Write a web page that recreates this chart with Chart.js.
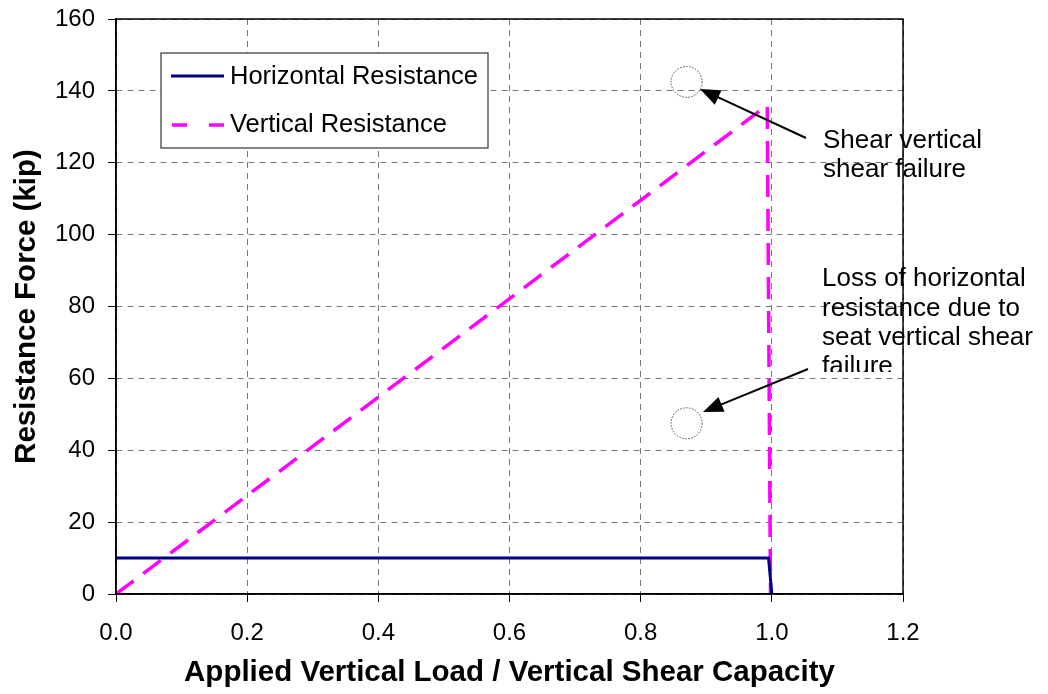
<!DOCTYPE html>
<html>
<head>
<meta charset="utf-8">
<script src="https://cdn.jsdelivr.net/npm/chart.js@4/dist/chart.umd.min.js"></script>
<style>
    html, body { margin: 0; padding: 0; background: #fff; }
    #wrap { width: 1048px; height: 694px; }
</style>
</head>
<body>
<div id="wrap"><canvas id="resChart" width="1048" height="694"></canvas></div>
<script>
// data
const horizX = [0, 0.995, 1.0];
const horizY = [10, 10, 0];
const vertX = [0, 0.993, 0.998];
const vertY = [0, 136, 0];
const xTicks = [0, 0.2, 0.4, 0.6, 0.8, 1.0, 1.2];
const yTicks = [0, 20, 40, 60, 80, 100, 120, 140, 160];

// circled points in the notes (data units)
const circles = [
    { x: 0.87, y: 142.5 },
    { x: 0.87, y: 47.5 }
];

const FONT = '"Liberation Sans", Arial, sans-serif';

const toPoints = (xs, ys) => xs.map((x, i) => ({ x: x, y: ys[i] }));

const drawArrow = (ctx, x1, y1, x2, y2) => {
    const a = Math.atan2(y2 - y1, x2 - x1);
    const len = 20, wid = 8;
    ctx.beginPath();
    ctx.moveTo(x1, y1);
    ctx.lineTo(x2 - len * 0.8 * Math.cos(a), y2 - len * 0.8 * Math.sin(a));
    ctx.stroke();
    ctx.beginPath();
    ctx.moveTo(x2, y2);
    ctx.lineTo(x2 - len * Math.cos(a) + wid * Math.sin(a), y2 - len * Math.sin(a) - wid * Math.cos(a));
    ctx.lineTo(x2 - len * Math.cos(a) - wid * Math.sin(a), y2 - len * Math.sin(a) + wid * Math.cos(a));
    ctx.closePath();
    ctx.fill();
};

const extras = {
    id: 'extras',
    afterDatasetsDraw(chart) {
        const { ctx, chartArea: ca, scales } = chart;
        ctx.save();

        // plot frame
        ctx.strokeStyle = '#000';
        ctx.lineWidth = 1.5;
        ctx.setLineDash([]);
        ctx.strokeRect(ca.left, ca.top, ca.right - ca.left, ca.bottom - ca.top);

        // legend box
        ctx.fillStyle = '#fff';
        ctx.fillRect(161, 53, 327, 95);
        ctx.strokeStyle = '#333';
        ctx.lineWidth = 1.2;
        ctx.strokeRect(161, 53, 327, 95);
        ctx.lineWidth = 3;
        ctx.strokeStyle = '#000080';
        ctx.beginPath(); ctx.moveTo(171, 76); ctx.lineTo(224, 76); ctx.stroke();
        ctx.strokeStyle = '#FF00FF';
        ctx.lineWidth = 3.5;
        ctx.setLineDash([15, 22]);
        ctx.beginPath(); ctx.moveTo(172, 125); ctx.lineTo(224, 125); ctx.stroke();
        ctx.setLineDash([]);
        ctx.fillStyle = '#000';
        ctx.font = '25.5px ' + FONT;
        ctx.textBaseline = 'middle';
        ctx.fillText('Horizontal Resistance', 230, 77);
        ctx.fillText('Vertical Resistance', 230, 125);

        // circles
        ctx.strokeStyle = '#444';
        ctx.lineWidth = 1;
        ctx.setLineDash([1.5, 1.5]);
        circles.forEach(c => {
            ctx.beginPath();
            ctx.arc(scales.x.getPixelForValue(c.x), scales.y.getPixelForValue(c.y), 15.5, 0, Math.PI * 2);
            ctx.stroke();
        });
        ctx.setLineDash([]);

        // arrows
        ctx.strokeStyle = '#000';
        ctx.fillStyle = '#000';
        ctx.lineWidth = 2;
        drawArrow(ctx, 806, 138, 700, 89);
        drawArrow(ctx, 808, 369, 703, 412);

        // notes
        ctx.font = '26px ' + FONT;
        ctx.textBaseline = 'middle';
        ctx.fillText('Shear vertical', 823, 141);
        ctx.fillText('shear failure', 823, 170);
        ctx.fillText('Loss of horizontal', 822, 279);
        ctx.fillText('resistance due to', 822, 309);
        ctx.fillText('seat vertical shear', 822, 338);
        // last line is cut off by its box in the original
        ctx.save();
        ctx.beginPath();
        ctx.rect(815, 350, 220, 22);
        ctx.clip();
        ctx.fillText('failure', 822, 367);
        ctx.restore();

        ctx.restore();
    }
};

const ctx = document.getElementById('resChart').getContext('2d');

new Chart(ctx, {
    type: 'scatter',
    data: {
        datasets: [{
            label: 'Horizontal Resistance',
            data: toPoints(horizX, horizY),
            showLine: true,
            borderColor: '#000080',
            borderWidth: 3,
            pointRadius: 0,
            fill: false
        }, {
            label: 'Vertical Resistance',
            data: toPoints(vertX, vertY),
            showLine: true,
            borderColor: '#FF00FF',
            borderWidth: 3.5,
            borderDash: [22, 12],
            pointRadius: 0,
            fill: false
        }]
    },
    options: {
        responsive: false,
        animation: false,
        devicePixelRatio: 1,
        layout: { padding: { top: 19, right: 145, bottom: 0, left: 0 } },
        plugins: {
            legend: { display: false },
            tooltip: { enabled: false }
        },
        scales: {
            x: {
                type: 'linear',
                min: 0,
                max: 1.2,
                afterBuildTicks: (axis) => { axis.ticks = xTicks.map(v => ({ value: v })); },
                afterFit: (axis) => {
                    axis.height = 100;
                    axis.paddingLeft = 0;
                    axis.paddingRight = 0;
                },
                ticks: {
                    color: '#000',
                    font: { family: FONT, size: 24 },
                    padding: 17,
                    callback: (value) => value.toFixed(1)
                },
                grid: {
                    color: '#777',
                    lineWidth: 1,
                    tickLength: 8,
                    tickColor: '#000'
                },
                border: { color: '#000', width: 1.5, dash: [6, 5] },
                title: {
                    display: true,
                    text: 'Applied Vertical Load / Vertical Shear Capacity',
                    color: '#000',
                    font: { family: FONT, size: 29.5, weight: 'bold' },
                    padding: { top: 0, bottom: 3 }
                }
            },
            y: {
                type: 'linear',
                min: 0,
                max: 160,
                afterBuildTicks: (axis) => { axis.ticks = yTicks.map(v => ({ value: v })); },
                afterFit: (axis) => {
                    axis.width = 116;
                    axis.paddingTop = 0;
                    axis.paddingBottom = 0;
                },
                ticks: {
                    color: '#000',
                    font: { family: FONT, size: 24 },
                    padding: 13
                },
                grid: {
                    color: '#777',
                    lineWidth: 1,
                    tickLength: 8,
                    tickColor: '#000'
                },
                border: { color: '#000', width: 1.5, dash: [6, 5] },
                title: {
                    display: true,
                    text: 'Resistance Force (kip)',
                    color: '#000',
                    font: { family: FONT, size: 29.5, weight: 'bold' },
                    padding: { top: 9, bottom: 0 }
                }
            }
        }
    },
    plugins: [extras]
});
</script>
</body>
</html>
